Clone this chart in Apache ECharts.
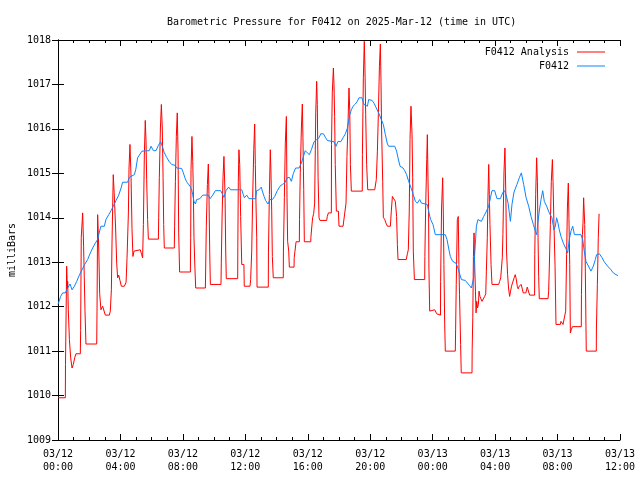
<!DOCTYPE html>
<html>
<head>
<meta charset="utf-8">
<script src="https://cdn.jsdelivr.net/npm/echarts@6/dist/echarts.min.js"></script>
<style>html,body{margin:0;padding:0;background:#fff;}#c{width:640px;height:480px;}</style>
</head>
<body>
<div id="c"></div>
<script>
// Hours since 2025-03-12 00:00 UTC
const xTickLabels = ['03/12\n00:00','03/12\n04:00','03/12\n08:00','03/12\n12:00','03/12\n16:00','03/12\n20:00','03/13\n00:00','03/13\n04:00','03/13\n08:00','03/13\n12:00'];
const seriesNames = ['F0412 Analysis', 'F0412'];

// F0412 Analysis: [hour, mb]
const analysisPoints = [
[0,1009.95],[0.47,1009.95],[0.48,1010.70],[0.53,1010.70],[0.555,1012.91],[0.60,1012.4],[0.62,1012.57],[0.66,1011.93],[0.73,1011.26],[0.81,1010.85],[0.90,1010.62],[0.98,1010.70],[1.07,1010.85],[1.15,1010.94],[1.43,1010.94],[1.45,1011.46],[1.49,1013.56],[1.55,1013.6],[1.58,1014.11],[1.64,1013.36],[1.73,1011.90],[1.79,1011.16],[2.48,1011.16],[2.50,1011.90],[2.54,1014.07],[2.61,1013.32],[2.67,1012.29],[2.75,1011.93],[2.86,1012.01],[2.95,1012.05],[3.03,1011.81],[3.29,1011.81],[3.35,1011.90],[3.42,1012.38],[3.46,1013.43],[3.54,1014.97],[3.60,1014.56],[3.63,1014.56],[3.69,1013.77],[3.76,1012.98],[3.82,1012.65],[3.89,1012.71],[3.97,1012.59],[4.06,1012.46],[4.25,1012.46],[4.36,1012.55],[4.42,1013.08],[4.51,1014.11],[4.55,1015.12],[4.61,1015.65],[4.68,1014.91],[4.74,1013.76],[4.80,1013.13],[4.87,1013.25],[4.99,1013.28],[5.27,1013.28],[5.36,1013.17],[5.42,1013.10],[5.47,1013.85],[5.53,1015.41],[5.59,1016.19],[5.64,1015.72],[5.68,1014.86],[5.74,1013.96],[5.79,1013.52],[6.43,1013.52],
[6.45,1014.01],[6.49,1014.9],[6.56,1016.02],[6.62,1016.55],[6.68,1016.02],[6.73,1014.91],[6.77,1013.85],[6.81,1013.32],[7.45,1013.32],[7.47,1013.81],[7.52,1014.82],[7.58,1015.83],[7.64,1016.36],[7.69,1015.46],[7.73,1013.66],[7.79,1012.78],[8.48,1012.78],[8.50,1013.55],[8.52,1015.08],[8.58,1015.83],[8.63,1015.27],[8.67,1014.6],[8.71,1013.55],[8.77,1012.87],[8.82,1012.42],[9.44,1012.42],[9.46,1012.87],[9.50,1013.81],[9.57,1014.75],[9.63,1015.21],[9.67,1014.52],[9.72,1013.21],[9.76,1012.50],[10.44,1012.50],[10.46,1012.98],[10.51,1014.0],[10.57,1014.9],[10.63,1015.38],[10.70,1014.52],[10.74,1013.32],[10.78,1012.63],[11.51,1012.63],[11.52,1013.36],[11.55,1014.82],[11.59,1015.53],[11.64,1015.2],[11.70,1014.03],[11.77,1012.95],[11.91,1012.95],[11.93,1012.46],
[12.30,1012.46],[12.34,1012.61],[12.41,1013.25],[12.47,1014.45],[12.54,1015.53],[12.60,1016.11],[12.64,1015.2],[12.68,1014.37],[12.73,1013.55],[12.75,1012.44],[13.47,1012.44],[13.48,1013.21],[13.54,1014.52],[13.60,1015.53],[13.64,1015.05],[13.69,1014.15],[13.73,1013.13],[13.79,1012.65],[14.43,1012.65],[14.44,1013.25],[14.50,1014.46],[14.56,1015.68],[14.63,1016.28],[14.67,1014.45],[14.71,1013.47],[14.78,1013.25],[14.82,1012.89],[15.12,1012.89],[15.13,1013.10],[15.18,1013.25],[15.25,1013.46],[15.46,1013.46],[15.47,1013.96],[15.52,1015.01],[15.59,1016.02],[15.65,1016.56],[15.69,1015.8],[15.74,1014.63],[15.78,1013.46],[16.19,1013.46],[16.20,1013.56],[16.25,1013.77],[16.31,1014.0],[16.38,1014.1],[16.44,1014.33],[16.51,1016.36],[16.57,1017.07],[16.61,1016.55],[16.66,1014.9],[16.72,1014.0],[16.78,1013.94],[17.21,1013.94],[17.25,1014.03],[17.32,1014.11],[17.51,1014.11],[17.52,1015.65],[17.57,1016.81],[17.64,1017.37],[17.68,1016.99],[17.72,1016.28],[17.76,1015.2],[17.83,1014.15],[17.96,1014.15],[18.0,1013.81],
[18.26,1013.81],[18.30,1013.78],[18.36,1013.81],[18.45,1014.33],[18.51,1015.38],[18.58,1016.17],[18.64,1016.92],[18.69,1016.4],[18.73,1015.2],[18.79,1014.6],[19.49,1014.6],[19.50,1015.42],[19.56,1017.15],[19.62,1017.97],[19.66,1017.41],[19.71,1016.32],[19.77,1015.2],[19.84,1014.63],[20.29,1014.63],[20.33,1014.67],[20.39,1014.86],[20.46,1015.5],[20.52,1016.32],[20.59,1017.41],[20.65,1017.91],[20.69,1017.07],[20.73,1015.95],[20.80,1014.82],[20.84,1014.01],[20.93,1013.96],[21.01,1013.88],[21.10,1013.81],[21.29,1013.81],[21.35,1014.15],[21.42,1014.48],[21.48,1014.48],[21.52,1014.44],[21.61,1014.37],[21.69,1014.03],[21.74,1013.4],[21.78,1013.06],[22.31,1013.06],[22.38,1013.19],[22.44,1013.28],[22.50,1014.15],[22.55,1015.76],[22.61,1016.51],[22.68,1015.87],[22.72,1014.9],[22.76,1013.25],[22.83,1012.61],[23.49,1012.61],[23.50,1013.13],[23.55,1014.22],[23.62,1015.31],[23.66,1015.87],[23.70,1014.9],[23.74,1014.15],[23.76,1012.87],[23.81,1011.9],
[24.13,1011.93],[24.19,1011.9],[24.26,1011.84],[24.32,1011.81],[24.50,1011.81],[24.51,1012.57],[24.57,1014.22],[24.64,1014.9],[24.68,1014.15],[24.72,1012.95],[24.77,1011.63],[24.81,1011.0],[25.45,1011.0],[25.47,1011.48],[25.51,1012.5],[25.58,1013.96],[25.64,1014.03],[25.68,1012.95],[25.72,1012.27],[25.79,1011.15],[25.83,1010.51],[26.52,1010.51],[26.53,1011.03],[26.57,1011.75],[26.61,1013.13],[26.65,1013.66],[26.69,1012.95],[26.74,1012.35],[26.78,1011.86],[26.82,1012.12],[26.87,1011.97],[26.93,1012.05],[26.97,1012.35],[27.03,1012.23],[27.10,1012.27],[27.16,1012.12],[27.27,1012.12],[27.33,1012.23],[27.40,1012.29],[27.44,1012.8],[27.50,1013.55],[27.54,1014.45],[27.59,1015.2],[27.63,1014.52],[27.67,1013.85],[27.74,1012.95],[27.80,1012.5],[28.23,1012.5],[28.29,1012.57],[28.36,1012.65],[28.44,1012.65],[28.46,1013.1],[28.50,1013.62],[28.57,1015.05],[28.63,1015.57],[28.69,1014.45],[28.73,1013.25],[28.80,1012.72],[28.86,1012.42],[28.93,1012.23],[28.99,1012.35],[29.05,1012.46],[29.14,1012.5],[29.22,1012.65],[29.29,1012.72],[29.35,1012.63],[29.42,1012.46],[29.48,1012.4],[29.54,1012.46],[29.61,1012.42],[29.67,1012.5],[29.74,1012.4],[29.80,1012.31],[29.97,1012.31],
[30.06,1012.44],[30.15,1012.41],[30.21,1012.26],[30.53,1012.26],[30.54,1013.17],[30.60,1014.52],[30.66,1015.35],[30.71,1014.82],[30.75,1013.55],[30.79,1012.68],[30.83,1012.18],[31.39,1012.18],[31.43,1012.35],[31.47,1012.87],[31.54,1013.85],[31.60,1014.82],[31.67,1015.31],[31.71,1014.82],[31.77,1013.85],[31.84,1012.91],[31.90,1011.6],[32.18,1011.6],[32.22,1011.67],[32.28,1011.71],[32.35,1011.6],[32.43,1011.6],[32.52,1011.9],[32.58,1013.17],[32.63,1014.22],[32.69,1014.78],[32.73,1013.99],[32.78,1012.95],[32.82,1011.41],[32.88,1011.48],[32.95,1011.55],[33.52,1011.55],[33.53,1012.27],[33.59,1013.62],[33.63,1013.88],[33.67,1014.45],[33.74,1013.85],[33.78,1012.8],[33.82,1011.56],[33.84,1011.0],[34.48,1011.0],[34.49,1011.52],[34.55,1012.5],[34.61,1013.56],[34.66,1014.09]
];

// F0412 observed: [hour, mb]
const stationPoints = [
[0,1012.05],[0.17,1012.23],[0.30,1012.31],[0.47,1012.31],[0.62,1012.42],[0.77,1012.51],[0.90,1012.38],[1.05,1012.46],[1.20,1012.57],[1.37,1012.71],[1.54,1012.83],[1.71,1012.95],[1.90,1013.06],[2.07,1013.21],[2.22,1013.32],[2.39,1013.43],[2.54,1013.51],[2.65,1013.68],[2.75,1013.81],[2.97,1013.81],[3.07,1013.96],[3.25,1014.07],[3.40,1014.16],[3.54,1014.26],[3.72,1014.39],[3.89,1014.51],[4.04,1014.67],[4.14,1014.8],[4.46,1014.8],[4.57,1014.91],[4.89,1014.97],[4.98,1015.08],[5.10,1015.35],[5.21,1015.41],[5.38,1015.5],[5.49,1015.51],[5.85,1015.51],[5.96,1015.61],
[6.11,1015.51],[6.28,1015.51],[6.43,1015.63],[6.58,1015.71],[6.68,1015.61],[6.79,1015.48],[6.96,1015.36],[7.13,1015.26],[7.28,1015.2],[7.49,1015.18],[7.60,1015.12],[7.92,1015.11],[8.03,1015.01],[8.13,1014.9],[8.24,1014.81],[8.46,1014.71],[8.56,1014.63],[8.63,1014.52],[8.71,1014.37],[8.80,1014.31],[8.88,1014.41],[9.09,1014.43],[9.27,1014.51],[9.63,1014.51],[9.74,1014.43],[9.91,1014.51],[10.08,1014.61],[10.42,1014.61],[10.55,1014.52],[10.63,1014.46],[10.76,1014.61],[10.93,1014.69],[11.06,1014.63],[11.77,1014.63],[11.87,1014.52],[11.94,1014.45],
[12.09,1014.51],[12.23,1014.43],[12.66,1014.43],[12.72,1014.61],[12.88,1014.63],[13.02,1014.69],[13.09,1014.6],[13.20,1014.48],[13.30,1014.39],[13.45,1014.31],[13.58,1014.41],[13.73,1014.41],[13.88,1014.48],[14.05,1014.61],[14.22,1014.71],[14.37,1014.75],[14.52,1014.78],[14.69,1014.9],[14.82,1014.91],[14.95,1014.82],[15.07,1014.99],[15.22,1015.12],[15.44,1015.12],[15.59,1015.23],[15.72,1015.38],[15.84,1015.51],[15.97,1015.46],[16.10,1015.42],[16.23,1015.53],[16.40,1015.71],[16.57,1015.76],[16.72,1015.8],[16.83,1015.89],[17.0,1015.89],[17.13,1015.81],[17.25,1015.74],[17.51,1015.72],[17.68,1015.71],[17.81,1015.61],[17.94,1015.72],
[18.11,1015.71],[18.26,1015.8],[18.41,1015.89],[18.53,1016.01],[18.69,1016.32],[18.79,1016.43],[18.90,1016.51],[19.05,1016.56],[19.17,1016.62],[19.28,1016.7],[19.47,1016.7],[19.60,1016.55],[19.69,1016.51],[19.82,1016.51],[19.90,1016.66],[19.99,1016.7],[20.12,1016.64],[20.24,1016.58],[20.39,1016.47],[20.54,1016.36],[20.71,1016.21],[20.84,1016.1],[20.97,1015.87],[21.10,1015.66],[21.18,1015.61],[21.57,1015.61],[21.69,1015.5],[21.78,1015.35],[21.91,1015.16],[22.10,1015.12],[22.21,1015.06],[22.33,1014.97],[22.46,1014.82],[22.63,1014.66],[22.76,1014.52],[22.89,1014.37],[23.02,1014.33],[23.17,1014.41],[23.28,1014.33],[23.40,1014.3],[23.66,1014.3],[23.74,1014.15],[23.87,1013.96],[24.02,1013.85],
[24.06,1013.79],[24.17,1013.62],[24.81,1013.62],[24.92,1013.51],[25.02,1013.32],[25.13,1013.13],[25.28,1013.02],[25.49,1012.98],[25.62,1012.87],[25.71,1012.76],[25.84,1012.61],[26.09,1012.59],[26.20,1012.57],[26.35,1012.48],[26.48,1012.42],[26.63,1012.65],[26.69,1013.17],[26.80,1013.81],[26.90,1013.96],[26.99,1014.0],[27.12,1013.92],[27.27,1014.03],[27.42,1014.13],[27.59,1014.26],[27.70,1014.45],[27.80,1014.61],[27.97,1014.61],[28.12,1014.43],[28.34,1014.43],[28.48,1014.56],[28.61,1014.61],[28.70,1014.52],[28.83,1014.33],[28.98,1013.92],[29.08,1014.3],[29.21,1014.58],[29.40,1014.75],[29.55,1014.9],[29.68,1015.01],[29.83,1014.75],[29.98,1014.46],
[30.15,1014.26],[30.30,1014.03],[30.45,1013.85],[30.58,1013.7],[30.66,1013.62],[30.73,1013.86],[30.83,1014.15],[30.94,1014.41],[31.05,1014.61],[31.15,1014.37],[31.30,1014.26],[31.47,1014.11],[31.64,1014.0],[31.77,1013.73],[31.86,1013.81],[31.94,1014.0],[32.03,1013.88],[32.11,1013.73],[32.22,1013.58],[32.37,1013.43],[32.54,1013.3],[32.65,1013.21],[32.75,1013.51],[32.86,1013.7],[32.97,1013.81],[33.08,1013.62],[33.50,1013.62],[33.61,1013.51],[33.71,1013.25],[33.82,1013.02],[34.04,1012.87],[34.14,1012.8],[34.29,1012.91],[34.42,1013.06],[34.50,1013.17],[34.68,1013.19],[34.85,1013.1],[34.99,1013.01],[35.21,1012.91],[35.42,1012.83],[35.57,1012.76],[35.74,1012.72],[35.87,1012.7]
];

const FONT = '"DejaVu Sans Mono", "Liberation Mono", monospace';
const RED = '#ff0000';
const BLUE = '#0a84ff';

const axisLineStyle = { show: true, lineStyle: { color: '#000', width: 1 } };
function xAxisDef(pos, showLabel) {
  return {
    type: 'value', position: pos, min: 0, max: 36, interval: 4,
    axisLine: axisLineStyle,
    axisTick: { show: true, inside: true, length: 6, lineStyle: { color: '#000' } },
    minorTick: { show: true, splitNumber: 4, length: 3, lineStyle: { color: '#000' } },
    splitLine: { show: false }, minorSplitLine: { show: false },
    axisLabel: {
      show: showLabel, margin: 8, color: '#000', fontFamily: FONT, fontSize: 10, lineHeight: 13,
      formatter: v => xTickLabels[Math.round(v / 4)]
    }
  };
}
function yAxisDef(pos, showLabel) {
  return {
    type: 'value', position: pos, min: 1009, max: 1018, interval: 1,
    axisLine: axisLineStyle,
    axisTick: { show: true, inside: true, length: 6, lineStyle: { color: '#000' } },
    splitLine: { show: false },
    axisLabel: { show: showLabel, margin: 7, color: '#000', fontFamily: FONT, fontSize: 10,
      formatter: v => String(Math.round(v)) }
  };
}
const legendBase = {
  orient: 'horizontal', align: 'right', icon: 'rect', itemWidth: 28, itemHeight: 1,
  right: 30, textStyle: { fontFamily: FONT, fontSize: 10, color: '#000', padding: [0, 3, 0, 0] }
};

const chart = echarts.init(document.getElementById('c'), null, { renderer: 'canvas' });
chart.setOption({
  animation: false,
  backgroundColor: '#fff',
  title: {
    text: 'Barometric Pressure for F0412 on 2025-Mar-12 (time in UTC)',
    left: 162, top: 12,
    textStyle: { fontFamily: FONT, fontSize: 10, fontWeight: 'normal', color: '#000' }
  },
  legend: [
    Object.assign({}, legendBase, { data: [seriesNames[0]], top: 42 }),
    Object.assign({}, legendBase, { data: [seriesNames[1]], top: 56 })
  ],
  grid: { left: 58, right: 20, top: 40, bottom: 40, containLabel: false },
  xAxis: [xAxisDef('bottom', true), xAxisDef('top', false)],
  yAxis: [yAxisDef('left', true), yAxisDef('right', false)],
  graphic: [{
    type: 'text', x: 12, y: 250, rotation: Math.PI / 2,
    style: { text: 'milliBars', font: '10px ' + FONT, fill: '#000', align: 'center', verticalAlign: 'middle' }
  }],
  series: [
    { name: seriesNames[0], type: 'line', data: analysisPoints, showSymbol: false, symbol: 'none',
      lineStyle: { color: RED, width: 1 }, itemStyle: { color: RED } },
    { name: seriesNames[1], type: 'line', data: stationPoints, showSymbol: false, symbol: 'none',
      lineStyle: { color: BLUE, width: 1 }, itemStyle: { color: BLUE } }
  ]
});
</script>
</body>
</html>
